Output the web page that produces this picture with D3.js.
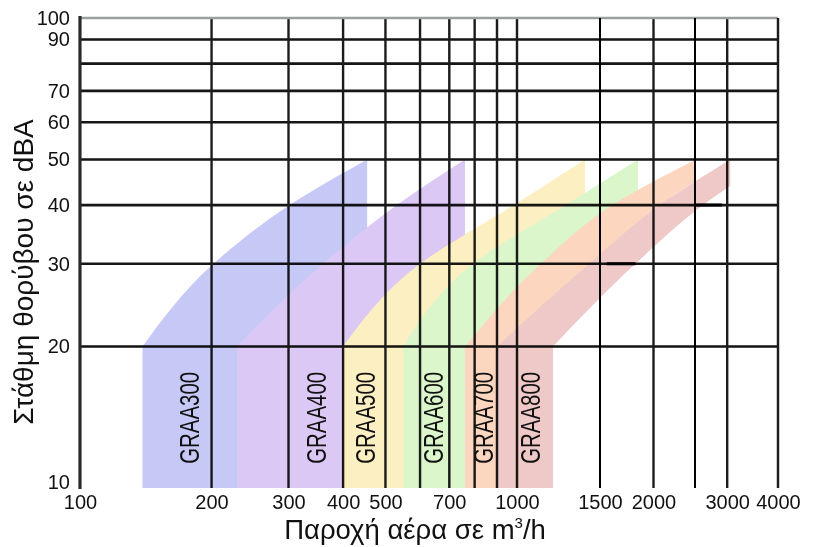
<!DOCTYPE html>
<html>
<head>
<meta charset="utf-8">
<script src="https://cdn.jsdelivr.net/npm/d3@7"></script>
<style>
  html, body { margin: 0; padding: 0; background: #fff; }
  svg { display: block; font-family: "Liberation Sans", Arial, Helvetica, sans-serif; }
</style>
</head>
<body>
<svg id="chart" width="820" height="547"></svg>
<script>
// Fan models, from the smallest to the largest
const models = ["GRAA300", "GRAA400", "GRAA500", "GRAA600", "GRAA700", "GRAA800"];

// Sound levels (dBA) at which the boundary curves are read
const curveLevels = [20, 30, 40, 50];

// Air flow (m³/h) of each boundary curve at those levels.
// Model i occupies the strip between curve i and curve i + 1.
const curve0 = [139, 202, 302, 454];
const curve1 = [229, 360, 531, 760];
const curve2 = [400, 600, 984, 1394];
const curve3 = [549, 793, 1270, 1840];
const curve4 = [760, 1124, 1605, 2514];
const curve5 = [900, 1422, 2070, 3052];
const curve6 = [1192, 1815, 2617, 3823];
const boundaryCurves = [curve0, curve1, curve2, curve3, curve4, curve5, curve6];

// Lowest level of the chart; below 20 dBA each model keeps a constant flow range
const floorLevel = 10;

// Where each model name sits (flow, level)
const labelFlows = [178, 347, 449, 642, 836, 1066];
const labelLevel = 14.1;

// Axis ticks and grid
const xTickValues = [100, 200, 300, 400, 500, 700, 1000, 1500, 2000, 3000, 4000];
const xGridValues = [200, 300, 400, 500, 600, 700, 800, 900, 1000, 1500, 2000, 2500, 3000];
const yTickValues = [10, 20, 30, 40, 50, 60, 70, 90, 100];
const yGridValues = [20, 30, 40, 50, 60, 70, 80, 90];

// Short heavy rule pieces printed over the grid
const heavyRuleLevels = [30, 40];
const heavyRuleFrom = [1555, 2514];
const heavyRuleTo = [1815, 2911];

const bandColors = ["#c6c8f6", "#dcc8f4", "#fcefc2", "#daf6ca", "#fcd6bf", "#efc8c8"];

const svg = d3.select("#chart");
const W = 820, H = 547;

// The printed flow axis is logarithmic per section, slightly stretched above 1000 m³/h
const x = d3.scaleLog()
  .domain([100, 1000, 1500, 2500, 4000])
  .range([80, 517, 600, 695, 778]);
const y = d3.scaleLog().domain([10, 100]).range([488, 18]);

const defs = svg.append("defs");
defs.append("filter").attr("id", "soft")
  .attr("x", "-2%").attr("y", "-2%").attr("width", "104%").attr("height", "104%")
  .append("feGaussianBlur").attr("stdDeviation", 0.45);

// ---- grid ----
const grid = svg.append("g").attr("class", "grid");
const softGrid = grid.append("g").attr("filter", "url(#soft)");

softGrid.selectAll("line.h").data(yGridValues).join("line")
  .attr("class", "h")
  .attr("x1", x(100)).attr("x2", x(4000))
  .attr("y1", d => y(d)).attr("y2", d => y(d))
  .attr("stroke", "#141414").attr("stroke-width", 2.7);

const sharp = d => d === 1500 || d === 2500;
softGrid.selectAll("line.v").data(xGridValues.filter(d => !sharp(d))).join("line")
  .attr("class", "v")
  .attr("x1", d => x(d)).attr("x2", d => x(d))
  .attr("y1", y(100)).attr("y2", y(10))
  .attr("stroke", "#1a1a1a").attr("stroke-width", 2.4);

// frame
softGrid.append("line")
  .attr("x1", x(100)).attr("x2", x(4000)).attr("y1", y(100)).attr("y2", y(100))
  .attr("stroke", "#9aa09e").attr("stroke-width", 2.6);
softGrid.append("line")
  .attr("x1", x(4000)).attr("x2", x(4000)).attr("y1", y(100)).attr("y2", y(10))
  .attr("stroke", "#1a1a1a").attr("stroke-width", 2.4);
softGrid.append("line")
  .attr("x1", x(100)).attr("x2", x(100)).attr("y1", y(100) - 2).attr("y2", y(10) + 1)
  .attr("stroke", "#2a2a2a").attr("stroke-width", 3.2);

grid.selectAll("line.vs").data(xGridValues.filter(sharp)).join("line")
  .attr("class", "vs")
  .attr("x1", d => x(d)).attr("x2", d => x(d))
  .attr("y1", y(100)).attr("y2", y(10))
  .attr("stroke", "#000").attr("stroke-width", 2);

// ---- model bands ----
const curveLine = d3.line()
  .x(d => x(d[0]))
  .y(d => y(d[1]))
  .curve(d3.curveMonotoneY);

const bands = svg.append("g").attr("class", "bands");

models.forEach((m, i) => {
  const upper = boundaryCurves[i].map((f, k) => [f, curveLevels[k]]);
  const lower = boundaryCurves[i + 1].map((f, k) => [f, curveLevels[k]]).reverse();
  const tipFlow = boundaryCurves[i][boundaryCurves[i].length - 1];

  const clipId = "band-clip-" + i;
  defs.append("clipPath").attr("id", clipId)
    .append("rect")
    .attr("x", x(100)).attr("y", y(100))
    .attr("width", x(tipFlow) - x(100))
    .attr("height", y(10) - y(100));

  const d =
    `M${x(boundaryCurves[i][0])},${y(floorLevel)}` +
    curveLine(upper).replace(/^M/, "L") +
    curveLine(lower).replace(/^M/, "L") +
    `L${x(boundaryCurves[i + 1][0])},${y(floorLevel)}Z`;

  bands.append("path")
    .attr("d", d)
    .attr("clip-path", `url(#${clipId})`)
    .attr("fill", bandColors[i])
    .style("mix-blend-mode", "multiply");
});

// heavy rule pieces
svg.append("g").selectAll("line").data(heavyRuleLevels).join("line")
  .attr("x1", (d, i) => x(heavyRuleFrom[i]))
  .attr("x2", (d, i) => x(heavyRuleTo[i]))
  .attr("y1", d => y(d)).attr("y2", d => y(d))
  .attr("stroke", "#000").attr("stroke-width", 3);

// bottom axis line
svg.append("line")
  .attr("x1", x(100) - 1).attr("x2", x(4000) + 1)
  .attr("y1", y(10)).attr("y2", y(10))
  .attr("stroke", "#111").attr("stroke-width", 3)
  .attr("filter", "url(#soft)");

// ---- model labels ----
svg.append("g").selectAll("text").data(models).join("text")
  .attr("transform", (d, i) => `translate(${x(labelFlows[i])},${y(labelLevel)}) rotate(-90)`)
  .attr("text-anchor", "middle")
  .attr("dy", "0.35em")
  .attr("font-size", 28)
  .attr("textLength", 92)
  .attr("lengthAdjust", "spacingAndGlyphs")
  .attr("fill", "#111")
  .text(d => d);

// ---- axes ----
const xAxis = svg.append("g")
  .attr("transform", `translate(0,${y(10)})`)
  .call(d3.axisBottom(x).tickValues(xTickValues).tickFormat(d3.format("d")).tickSize(0).tickPadding(7));
const yAxis = svg.append("g")
  .attr("transform", `translate(${x(100)},0)`)
  .call(d3.axisLeft(y).tickValues(yTickValues).tickFormat(d3.format("d")).tickSize(0).tickPadding(10));

[xAxis, yAxis].forEach(a => {
  a.select(".domain").remove();
  a.selectAll("text")
    .attr("font-size", 20)
    .attr("font-family", "\"Liberation Sans\", Arial, sans-serif")
    .attr("fill", "#111");
});
yAxis.selectAll(".tick").filter(d => d === 10).select("text").attr("dy", "0em");

// ---- axis titles ----
const xTitle = svg.append("text")
  .attr("x", 415).attr("y", 539)
  .attr("text-anchor", "middle")
  .attr("font-size", 27.5)
  .attr("fill", "#111");
xTitle.append("tspan").text("Παροχή αέρα σε m");
xTitle.append("tspan").attr("font-size", 15).attr("dy", -11).text("3");
xTitle.append("tspan").attr("dy", 11).text("/h");

svg.append("text")
  .attr("transform", "translate(33,272) rotate(-90)")
  .attr("text-anchor", "middle")
  .attr("font-size", 28)
  .attr("fill", "#111")
  .text("Στάθμη θορύβου σε dBA");
</script>
</body>
</html>
